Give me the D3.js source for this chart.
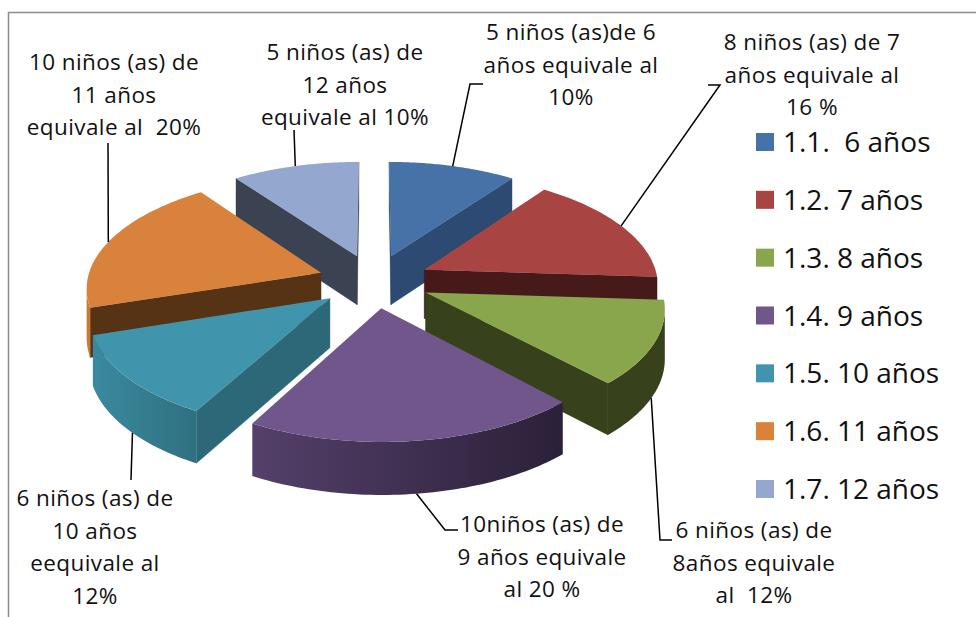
<!DOCTYPE html>
<html><head><meta charset="utf-8">
<script src="https://cdn.jsdelivr.net/npm/d3@7/dist/d3.min.js"></script>
<style>html,body{margin:0;padding:0;background:#fff}svg{display:block}text{font-family:"Open Sans",Lato,sans-serif;fill:#111;white-space:pre}</style>
</head><body><svg id="c" width="976" height="617"></svg>
<script>
const categories = ["1.1.  6 años","1.2. 7 años","1.3. 8 años","1.4. 9 años","1.5. 10 años","1.6. 11 años","1.7. 12 años"];
const values = [10,16,12,20,12,20,10];
const topColors = ["#4672a8","#a84543","#89a64d","#71568c","#4095ad","#d8823b","#94a8cf"];
const cutColors = ["#2c4a72","#451a19","#37421c","#2d2139","#2c6878","#563315","#3b4252"];
const wallFrom = ["#2c4a72","#6e2b2a","#37421c","#54406a","#3a8a9f","#c97a33","#3b4252"];
const wallTo = ["#2c4a72","#6e2b2a","#37421c","#2b2038","#2f7080","#c97a33","#3b4252"];
const paintOrder = [0,6,1,5,2,4,3];
const labels = [
 ["5 niños (as)de 6","años equivale al","10%"],
 ["8 niños (as) de 7","años equivale al","16 %"],
 ["6 niños (as) de","8años equivale","al  12%"],
 ["10niños (as) de","9 años equivale","al 20 %"],
 ["6 niños (as) de","10 años","eequivale al","12%"],
 ["10 niños (as) de","11 años","equivale al  20%"],
 ["5 niños (as) de","12 años","equivale al 10%"]];
const labelX = [571,812,754,542,95,114,345];
const labelY = [40,50,538,532,506,70,60];
const elbows = [[[470,84],[483,84]],[[720,85],[708,85]],[[660,540],[672,540]],[[445,530],[458,530]],[[131,480]],[[108,143]],[[294,130]]];
const anchorOnBase = [false,false,true,true,true,false,false];
const anchorShiftDeg = [0,0,2,0,-2,-1,0];

const cx=374, cy=281, Sx=234, Sy=111, K=0.118, H=49, E=0.24;
const svg=d3.select("#c");
const frame=d3.path(); frame.moveTo(8.5,617); frame.lineTo(8.5,12.5); frame.lineTo(976,12.5);
svg.append("path").attr("d",frame.toString()).attr("fill","none").attr("stroke","#8c8c8c").attr("stroke-width",1.5);

const proj=(X,Y,down=0)=>{const w=1-K*Y;return [cx+Sx*X/w, cy+Sy*Y/w+(down?H/Math.pow(w,0.5):0)];};
const arcs=d3.pie().sort(null).startAngle(0).endAngle(2*Math.PI)(values);
const line=d3.line();
const defs=svg.append("defs");
const g=svg.append("g");
const geo=arcs.map(a=>{
  const mid=(a.startAngle+a.endAngle)/2;
  const ax=E*Math.sin(mid), ay=-E*Math.cos(mid);
  const pt=(t,r,down)=>proj(ax+r*Math.sin(t),ay-r*Math.cos(t),down);
  return {a,mid,pt};
});
function quad(p,fill){g.append("path").attr("d",line(p)+"Z").attr("fill",fill).attr("stroke",fill).attr("stroke-width",0.4);}
paintOrder.forEach(i=>{
  const {a,pt}=geo[i];
  const n=60, ts=d3.range(n+1).map(k=>a.startAngle+(a.endAngle-a.startAngle)*k/n);
  const apexT=pt(0,0,false), apexB=pt(0,0,true);
  const face=(A,B,Ab,Bb,fill)=>{const q=[A,B,Bb,Ab]; if(d3.polygonArea(q)>0.01) quad(q,fill);};
  face(apexT,pt(a.startAngle,1),apexB,pt(a.startAngle,1,true),cutColors[i]);
  face(pt(a.endAngle,1),apexT,pt(a.endAngle,1,true),apexB,cutColors[i]);
  const vis=ts.slice(0,-1).map((t,k)=>d3.polygonArea([pt(t,1),pt(ts[k+1],1),pt(ts[k+1],1,true),pt(t,1,true)])>0);
  const first=vis.indexOf(true), last=vis.lastIndexOf(true);
  if(first>=0){
    const run=ts.slice(first,last+2);
    const upper=run.map(t=>pt(t,1)), lower=run.map(t=>pt(t,1,true)).reverse();
    const xs=d3.extent(upper,d=>d[0]);
    const id="wall"+i;
    const lg=defs.append("linearGradient").attr("id",id).attr("gradientUnits","userSpaceOnUse")
      .attr("x1",xs[0]).attr("x2",xs[1]).attr("y1",0).attr("y2",0);
    lg.append("stop").attr("offset",0).attr("stop-color",wallFrom[i]);
    lg.append("stop").attr("offset",1).attr("stop-color",wallTo[i]);
    g.append("path").attr("d",line([...upper,...lower])+"Z").attr("fill",`url(#${id})`);
  }
  const top=[apexT,...ts.map(t=>pt(t,1))];
  g.append("path").attr("d",line(top)+"Z").attr("fill",topColors[i]);
});
geo.forEach((s,i)=>{
  const start=s.pt(s.mid+anchorShiftDeg[i]*Math.PI/180,1,anchorOnBase[i]);
  svg.append("path").attr("d",line([start,...elbows[i]])).attr("fill","none").attr("stroke","#000").attr("stroke-width",1.5);
});
labels.forEach((L,i)=>{
  const t=svg.append("text").attr("text-anchor","middle").attr("font-size",22.5).attr("letter-spacing",0.4);
  L.forEach((s,k)=>t.append("tspan").attr("x",labelX[i]).attr("y",labelY[i]+k*32.7).text(s));
});
const ly=d3.scalePoint().domain(categories).range([142,489]);
categories.forEach((c,i)=>{
  svg.append("rect").attr("x",756).attr("y",ly(c)-9).attr("width",18).attr("height",18).attr("fill",topColors[i]);
  svg.append("text").attr("x",783).attr("y",ly(c)+10).attr("font-size",28).text(c);
});
</script></body></html>
